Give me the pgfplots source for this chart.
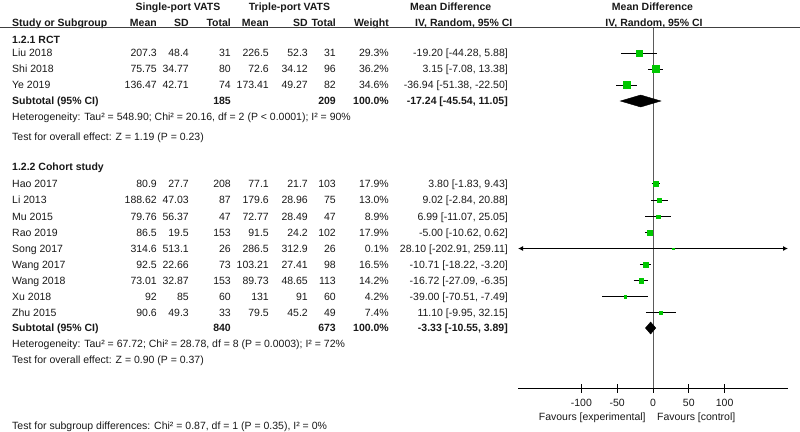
\documentclass[border=0pt]{standalone}
\usepackage{pgfplots}
\pgfplotsset{compat=1.18}
\usepackage{fontspec}
\setmainfont{Liberation Sans}
\usetikzlibrary{arrows.meta}
\definecolor{rmgreen}{RGB}{0,200,0}
\definecolor{txt}{RGB}{25,25,25}
\definecolor{zline}{RGB}{90,90,90}

\newcommand{\row}[9]{%
 \node[anchor=base west] at (12,#1+3.8) {#2};
 \node[anchor=base east] at (157,#1+3.8) {#3};
 \node[anchor=base east] at (189,#1+3.8) {#4};
 \node[anchor=base east] at (231,#1+3.8) {#5};
 \node[anchor=base east] at (269,#1+3.8) {#6};
 \node[anchor=base east] at (308,#1+3.8) {#7};
 \node[anchor=base east] at (336,#1+3.8) {#8};
 \node[anchor=base east] at (389,#1+3.8) {#9};}
\newcommand{\md}[2]{\node[anchor=base east] at (508,#1+3.8) {#2};}
\newcommand{\lt}[2]{\node[anchor=base west] at (12,#1+3.8) {#2};}

\newcommand{\study}[5]{%
 \addplot[black, line width=1pt] coordinates {(#2,#4) (#3,#4)};
 \addplot[only marks, mark=square*, mark size=#5, color=rmgreen] coordinates {(#1,#4)};}

\begin{document}
\begin{tikzpicture}[every node/.style={font=\fontsize{10.5}{12}\selectfont, inner sep=0pt, text=txt}]
\begin{scope}[x=1pt,y=-1pt]
\path[use as bounding box] (0,0) rectangle (800,431);
% header
\node[anchor=base, font=\fontsize{10.5}{12}\selectfont\bfseries] at (178,6.7+3.8) {Single-port VATS};
\node[anchor=base, font=\fontsize{10.5}{12}\selectfont\bfseries] at (289.5,6.7+3.8) {Triple-port VATS};
\node[anchor=base west, font=\fontsize{10.5}{12}\selectfont\bfseries] at (410,6.7+3.8) {Mean Difference};
\node[anchor=base, font=\fontsize{10.5}{12}\selectfont\bfseries] at (652.5,6.7+3.8) {Mean Difference};
\begin{scope}[every node/.append style={font=\fontsize{10.5}{12}\selectfont\bfseries}]
\row{22.5}{Study or Subgroup}{Mean}{SD}{Total}{Mean}{SD}{Total}{Weight}
\node[anchor=base west] at (415,22.5+3.8) {IV, Random, 95\% CI};
\node[anchor=base] at (654,22.5+3.8) {IV, Random, 95\% CI};
\end{scope}
\draw[black!75, line width=0.9pt] (0,27.5) -- (800,27.5);
% RCT
\node[anchor=base west, font=\fontsize{10.5}{12}\selectfont\bfseries] at (12,40+3.8) {1.2.1 RCT};
\row{53}{Liu 2018}{207.3}{48.4}{31}{226.5}{52.3}{31}{29.3\%}
\md{53}{-19.20 [-44.28, 5.88]}
\row{69}{Shi 2018}{75.75}{34.77}{80}{72.6}{34.12}{96}{36.2\%}
\md{69}{3.15 [-7.08, 13.38]}
\row{85}{Ye 2019}{136.47}{42.71}{74}{173.41}{49.27}{82}{34.6\%}
\md{85}{-36.94 [-51.38, -22.50]}
\begin{scope}[every node/.append style={font=\fontsize{10.5}{12}\selectfont\bfseries}]
\row{101}{Subtotal (95\% CI)}{}{}{185}{}{}{209}{100.0\%}
\md{101}{-17.24 [-45.54, 11.05]}
\end{scope}
\lt{117}{Heterogeneity: Tau² = 548.90; Chi² = 20.16, df = 2 (P < 0.0001); I² = 90\%}
\lt{137}{Test for overall effect: Z = 1.19 (P = 0.23)}
% Cohort
\node[anchor=base west, font=\fontsize{10.5}{12}\selectfont\bfseries] at (12,167+3.8) {1.2.2 Cohort study};
\row{183.5}{Hao 2017}{80.9}{27.7}{208}{77.1}{21.7}{103}{17.9\%}
\md{183.5}{3.80 [-1.83, 9.43]}
\row{200}{Li 2013}{188.62}{47.03}{87}{179.6}{28.96}{75}{13.0\%}
\md{200}{9.02 [-2.84, 20.88]}
\row{216.5}{Mu 2015}{79.76}{56.37}{47}{72.77}{28.49}{47}{8.9\%}
\md{216.5}{6.99 [-11.07, 25.05]}
\row{232.5}{Rao 2019}{86.5}{19.5}{153}{91.5}{24.2}{102}{17.9\%}
\md{232.5}{-5.00 [-10.62, 0.62]}
\row{248.5}{Song 2017}{314.6}{513.1}{26}{286.5}{312.9}{26}{0.1\%}
\md{248.5}{28.10 [-202.91, 259.11]}
\row{264.5}{Wang 2017}{92.5}{22.66}{73}{103.21}{27.41}{98}{16.5\%}
\md{264.5}{-10.71 [-18.22, -3.20]}
\row{280.5}{Wang 2018}{73.01}{32.87}{153}{89.73}{48.65}{113}{14.2\%}
\md{280.5}{-16.72 [-27.09, -6.35]}
\row{296.5}{Xu 2018}{92}{85}{60}{131}{91}{60}{4.2\%}
\md{296.5}{-39.00 [-70.51, -7.49]}
\row{312.5}{Zhu 2015}{90.6}{49.3}{33}{79.5}{45.2}{49}{7.4\%}
\md{312.5}{11.10 [-9.95, 32.15]}
\begin{scope}[every node/.append style={font=\fontsize{10.5}{12}\selectfont\bfseries}]
\row{328}{Subtotal (95\% CI)}{}{}{840}{}{}{673}{100.0\%}
\md{328}{-3.33 [-10.55, 3.89]}
\end{scope}
\lt{344}{Heterogeneity: Tau² = 67.72; Chi² = 28.78, df = 8 (P = 0.0003); I² = 72\%}
\lt{360}{Test for overall effect: Z = 0.90 (P = 0.37)}
\lt{426}{Test for subgroup differences: Chi² = 0.87, df = 1 (P = 0.35), I² = 0\%}
\end{scope}

\begin{axis}[at={(518pt,0pt)}, anchor=north west, scale only axis,
  width=270pt, height=431pt, xmin=-188.4, xmax=188.4, ymin=0, ymax=431,
  y dir=reverse, hide axis, clip=false]
\addplot[zline, line width=1pt] coordinates {(0,27.5) (0,388)};
\addplot[black, line width=0.9pt] coordinates {(-188.4,388) (188.4,388)};
\foreach \t in {-100,-50,50,100} {
  \edef\tmp{\noexpand\addplot[black, line width=0.9pt] coordinates {(\t,384) (\t,392.5)};}\tmp
}
\addplot[black, line width=0.9pt] coordinates {(0,388) (0,392.5)};
\node[anchor=base] at (axis cs:-100,406) {-100};
\node[anchor=base] at (axis cs:-50,406) {-50};
\node[anchor=base] at (axis cs:0,406) {0};
\node[anchor=base] at (axis cs:50,406) {50};
\node[anchor=base] at (axis cs:100,406) {100};
\node[anchor=base east] at (axis cs:-10,420) {Favours [experimental]};
\node[anchor=base west] at (axis cs:5.5,420) {Favours [control]};
% RCT
\study{-19.20}{-44.28}{5.88}{53}{3.1}
\study{3.15}{-7.08}{13.38}{69}{3.5}
\study{-36.94}{-51.38}{-22.50}{85}{3.4}
\addplot[fill=black, draw=black] coordinates {(-45.54,101) (-17.24,95) (11.05,101) (-17.24,107)} -- cycle;
% Cohort
\study{3.80}{-1.83}{9.43}{183.5}{2.6}
\study{9.02}{-2.84}{20.88}{200}{2.1}
\study{6.99}{-11.07}{25.05}{216.5}{1.7}
\study{-5.00}{-10.62}{0.62}{232.5}{2.6}
\addplot[black, line width=1pt, {Latex[length=5pt,width=5pt]}-{Latex[length=5pt,width=5pt]}] coordinates {(-188.4,248.5) (188.4,248.5)};
\addplot[only marks, mark=square*, mark size=0.8, color=rmgreen] coordinates {(28.10,248.5)};
\study{-10.71}{-18.22}{-3.20}{264.5}{2.4}
\study{-16.72}{-27.09}{-6.35}{280.5}{2.2}
\study{-39.00}{-70.51}{-7.49}{296.5}{1.3}
\study{11.10}{-9.95}{32.15}{312.5}{1.6}
\addplot[fill=black, draw=black] coordinates {(-10.55,328) (-3.33,322) (3.89,328) (-3.33,334)} -- cycle;
\end{axis}
\end{tikzpicture}
\end{document}
